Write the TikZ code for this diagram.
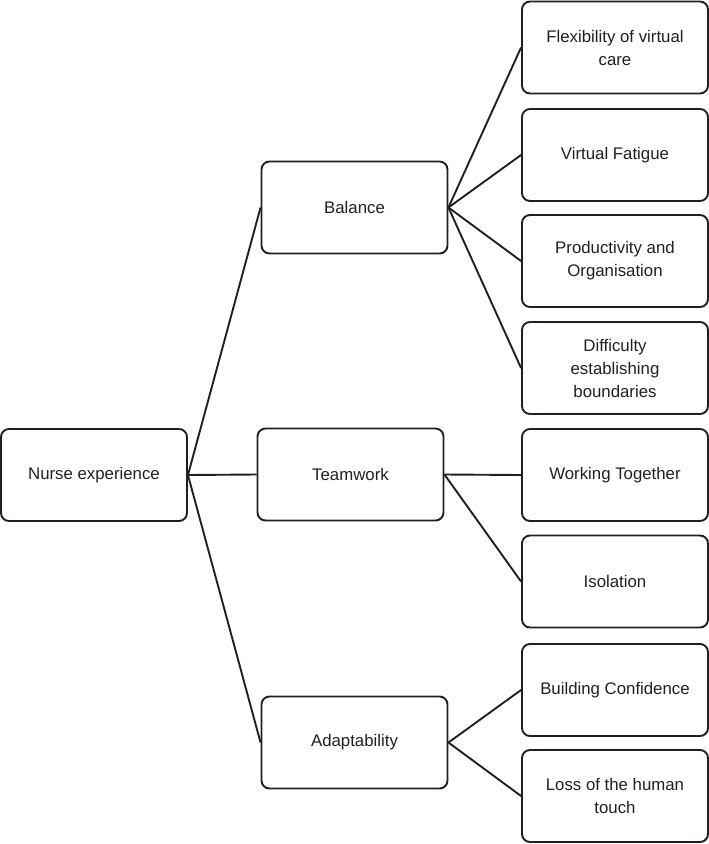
\documentclass[tikz,border=0pt]{standalone}
\usepackage{fontspec}
\setmainfont{Liberation Sans}
\usepackage{xcolor}
\usepackage{tikz}

\begin{document}
\begin{tikzpicture}[x=1pt,y=-1pt,
  box/.style={draw=ldark,line width=1.9pt,rounded corners=8pt,
    minimum width=186pt,minimum height=92pt,inner sep=0pt,
    align=center,text=ldark,font=\fontsize{16.8}{23}\selectfont},
  link/.style={draw=ldark,line width=1.9pt}]
  \definecolor{ldark}{RGB}{35,31,32}
  \useasboundingbox (0,0) rectangle (709,844);
  % root and themes
  \node[box] (nurse) at (94.00,475.00) {Nurse experience};
  \node[box] (balance) at (354.50,207.50) {Balance};
  \node[box] (teamwork) at (350.50,474.50) {Teamwork};
  \node[box] (adapt) at (354.50,742.50) {Adaptability};
  % sub-themes
  \node[box] (flex) at (615.00,47.50) {Flexibility of virtual\\care};
  \node[box] (fatigue) at (615.00,155.00) {Virtual Fatigue};
  \node[box] (product) at (615.00,261.00) {Productivity and\\Organisation};
  \node[box] (bounds) at (615.00,368.00) {Difficulty\\establishing\\boundaries};
  \node[box] (together) at (615.00,475.00) {Working Together};
  \node[box] (isolation) at (615.00,581.50) {Isolation};
  \node[box] (confid) at (615.00,690.00) {Building Confidence};
  \node[box] (touch) at (615.00,796.00) {Loss of the human\\touch};
  % connectors
  \draw[link] (nurse.east) -- (balance.west);
  \draw[link] (nurse.east) -- (teamwork.west);
  \draw[link] (nurse.east) -- (adapt.west);
  \draw[link] (balance.east) -- (flex.west);
  \draw[link] (balance.east) -- (fatigue.west);
  \draw[link] (balance.east) -- (product.west);
  \draw[link] (balance.east) -- (bounds.west);
  \draw[link] (teamwork.east) -- (together.west);
  \draw[link] (teamwork.east) -- (isolation.west);
  \draw[link] (adapt.east) -- (confid.west);
  \draw[link] (adapt.east) -- (touch.west);
\end{tikzpicture}
\end{document}
